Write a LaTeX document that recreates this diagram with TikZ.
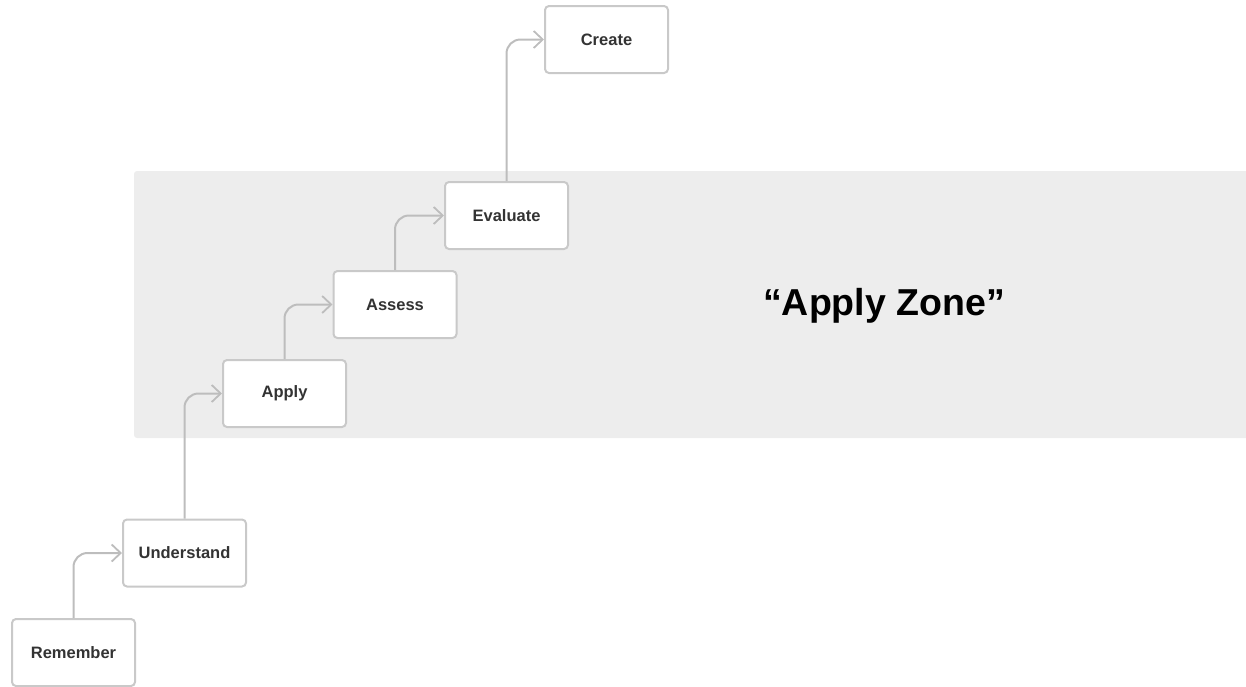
\documentclass[tikz,border=0pt]{standalone}
\usepackage{fontspec}
\setmainfont{Liberation Sans}
\usetikzlibrary{arrows.meta}
\definecolor{boxline}{HTML}{C9C9C9}
\definecolor{conn}{HTML}{BDBDBD}
\definecolor{zone}{HTML}{EDEDED}
\definecolor{txt}{HTML}{333333}
\begin{document}
\begin{tikzpicture}[x=1pt,y=-1pt,
  stepbox/.style={draw=boxline, line width=2pt, fill=white, rounded corners=4pt,
    minimum width=123pt, minimum height=67pt, inner sep=0pt,
    font=\fontsize{16.5}{19}\selectfont\bfseries, text=txt},
  conn/.style={draw=conn, line width=2pt, rounded corners=14pt,
    -{Straight Barb[length=9pt,width=17pt,line width=1.8pt]}}]
\useasboundingbox (0,0) rectangle (1246,686);
\fill[zone, rounded corners=3pt] (134,171) rectangle (1260,438);
\node[font=\fontsize{37.5}{44}\selectfont\bfseries, text=black] (zl) at (884,306) {“Apply Zone”};
\node[stepbox] (rem) at (73.5,652.5) {Remember};
\node[stepbox] (und) at (184.5,553) {Understand};
\node[stepbox] (app) at (284.5,393.5) {Apply};
\node[stepbox] (ass) at (395,304.5) {Assess};
\node[stepbox] (eva) at (506.5,215.5) {Evaluate};
\node[stepbox] (cre) at (606.5,39.5) {Create};
\draw[conn] (rem.north) |- (und.west);
\draw[conn] (und.north) |- (app.west);
\draw[conn] (app.north) |- (ass.west);
\draw[conn] (ass.north) |- (eva.west);
\draw[conn] (eva.north) |- (cre.west);
\end{tikzpicture}
\end{document}
